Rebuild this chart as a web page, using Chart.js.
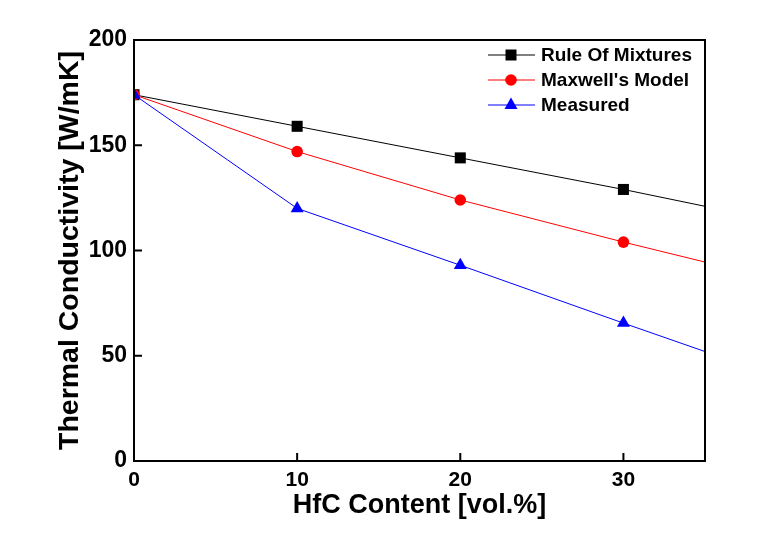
<!DOCTYPE html>
<html><head><meta charset="utf-8">
<script src="https://cdn.jsdelivr.net/npm/chart.js@4/dist/chart.umd.min.js"></script>
<style>html,body{margin:0;padding:0;background:#fff}#w{width:770px;height:543px}</style>
</head><body><div id="w"><canvas id="c"></canvas></div>
<script>
const hfcContent = [0, 10, 20, 30, 35];
const ruleOfMixtures = [174, 159, 144, 129, 121];
const maxwellModel = [174, 147, 124, 104, 94.5];
const measured = [174, 120, 93, 65.5, 52];
const xTicks = [0, 10, 20, 30];
const yTicks = [0, 50, 100, 150, 200];
const seriesNames = ["Rule Of Mixtures", "Maxwell's Model", "Measured"];

const FONT = "'Liberation Sans', Arial, sans-serif";
function pts(arr){ return hfcContent.map((x,i)=>({x:x,y:arr[i]})); }
function radii(r){ return hfcContent.map(x => x > 30 ? 0 : r); }

const frameTicks = {
  id:'frameTicks',
  afterDraw(chart){
    const {ctx, chartArea:a, scales:{x,y}} = chart;
    ctx.save();
    ctx.strokeStyle='#000'; ctx.lineWidth=2;
    ctx.strokeRect(a.left, a.top, a.right-a.left, a.bottom-a.top);
    ctx.beginPath();
    xTicks.forEach(v=>{ const px=x.getPixelForValue(v); ctx.moveTo(px,a.bottom); ctx.lineTo(px,a.bottom-8); });
    yTicks.forEach(v=>{ const py=y.getPixelForValue(v); ctx.moveTo(a.left,py); ctx.lineTo(a.left+8,py); });
    ctx.stroke();
    // legend
    const ds = chart.data.datasets;
    ds.forEach((d,i)=>{
      const yy = 55 + i*25;
      ctx.strokeStyle=d.borderColor; ctx.lineWidth=1;
      ctx.beginPath(); ctx.moveTo(488,yy); ctx.lineTo(535,yy); ctx.stroke();
      ctx.fillStyle=d.pointBackgroundColor;
      ctx.beginPath();
      if(d.pointStyle==='rect'){ ctx.rect(505.5,yy-5.5,11,11); }
      else if(d.pointStyle==='circle'){ ctx.arc(511,yy,5.8,0,Math.PI*2); }
      else { ctx.moveTo(511,yy-7.5); ctx.lineTo(517.5,yy+4); ctx.lineTo(504.5,yy+4); ctx.closePath(); }
      ctx.fill();
      ctx.fillStyle='#000'; ctx.font="bold 19px "+FONT; ctx.textBaseline='middle'; ctx.textAlign='left';
      ctx.fillText(d.label, 541, yy+1);
    });
    ctx.restore();
  }
};

new Chart(document.getElementById('c'), {
  type:'line',
  data:{ datasets:[
    {label:seriesNames[0], order:2, data:pts(ruleOfMixtures), borderColor:'#000', backgroundColor:'#000', pointBackgroundColor:'#000', pointBorderWidth:0, pointStyle:'rect', pointRadius:radii(7.8), borderWidth:1},
    {label:seriesNames[1], order:1, data:pts(maxwellModel), borderColor:'#ff0000', backgroundColor:'#ff0000', pointBackgroundColor:'#ff0000', pointBorderWidth:0, pointStyle:'circle', pointRadius:radii(5.8), borderWidth:1},
    {label:seriesNames[2], order:0, data:pts(measured), borderColor:'#0000ff', backgroundColor:'#0000ff', pointBackgroundColor:'#0000ff', pointBorderWidth:0, pointStyle:'triangle', pointRadius:radii(7.5), borderWidth:1}
  ]},
  options:{
    responsive:true, maintainAspectRatio:false, animation:false,
    layout:{padding:{top:40,right:65,left:0,bottom:0}},
    plugins:{legend:{display:false}, tooltip:{enabled:false}},
    elements:{line:{tension:0}},
    scales:{
      x:{type:'linear', min:0, max:35,
        afterBuildTicks(s){ s.ticks = xTicks.map(v=>({value:v})); },
        afterFit(s){ s.height = 82; },
        grid:{display:false, drawTicks:false, tickLength:0}, border:{display:false},
        ticks:{color:'#000', font:{family:FONT, size:21, weight:'bold'}, padding:7},
        title:{display:true, text:'HfC Content [vol.%]', color:'#000', font:{family:FONT, size:27, weight:'bold'}, padding:{top:0, bottom:21}}
      },
      y:{min:0, max:200,
        afterBuildTicks(s){ s.ticks = yTicks.map(v=>({value:v})); },
        afterFit(s){ s.width = 134; },
        grid:{display:false, drawTicks:false, tickLength:0}, border:{display:false},
        ticks:{color:'#000', font:{family:FONT, size:23, weight:'bold'}, padding:7},
        title:{display:true, text:'Thermal Conductivity [W/mK]', color:'#000', font:{family:FONT, size:28.5, weight:'bold'}, padding:{top:53, bottom:0}}
      }
    }
  },
  plugins:[frameTicks]
});
</script></body></html>
